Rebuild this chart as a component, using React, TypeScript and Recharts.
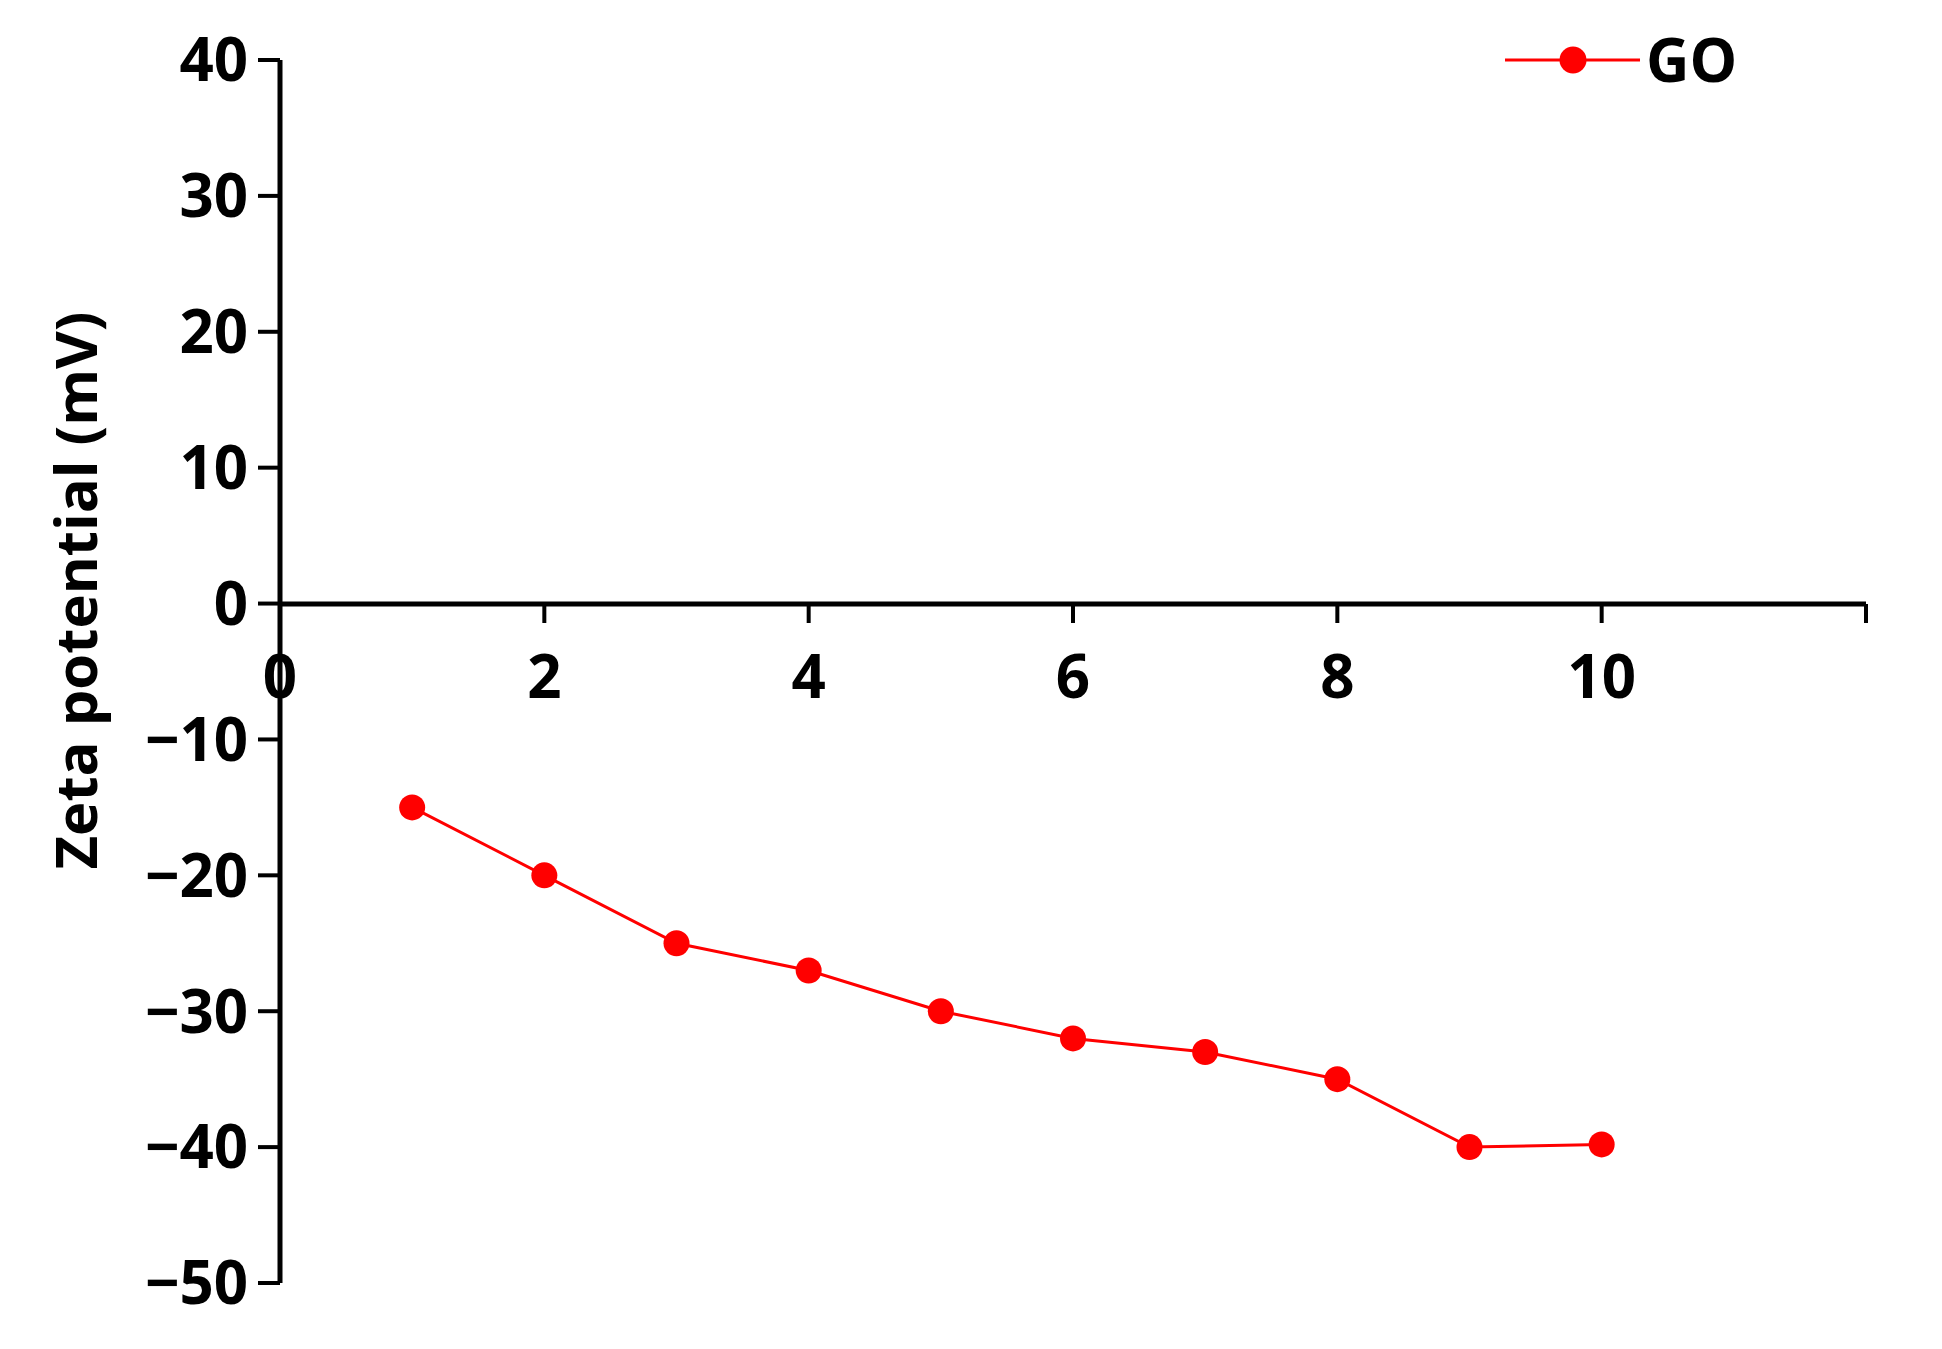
import React from 'react';
import { ComposedChart, Line, XAxis, YAxis, Legend } from 'recharts';

// pH steps and measured zeta potential of GO
const phValues = [1, 2, 3, 4, 5, 6, 7, 8, 9, 10];
const zetaGO = [-15, -20, -25, -27, -30, -32, -33, -35, -40, -39.8];
const xTicks = [0, 2, 4, 6, 8, 10, 12];
const yTicks = [-50, -40, -30, -20, -10, 0, 10, 20, 30, 40];
const seriesName = 'GO';
const yLabel = 'Zeta potential (mV)';

const data = phValues.map((ph, i) => ({ ph, zeta: zetaGO[i] }));

const W = 1942;
const H = 1349;
const FONT = '"Open Sans", "DejaVu Sans", sans-serif';
const RED = '#ff0000';

const tickStyle = { fontSize: 60, fontWeight: 700, fill: '#000', fontFamily: FONT };
const axisStroke = { stroke: '#000', strokeWidth: 5 };
const tickStroke = { stroke: '#000', strokeWidth: 4 };

const fmtY = (v: number) => (v < 0 ? '\u2212' + Math.abs(v) : String(v));
const fmtX = (v: number) => (v === 12 ? '' : String(v));

function LegendContent(props: any) {
  const item = props.payload && props.payload[0];
  if (!item) return null;
  return (
    <svg width={380} height={90} style={{ overflow: 'visible' }}>
      <line x1={15} x2={150} y1={40} y2={40} stroke={item.color} strokeWidth={3} />
      <circle cx={83} cy={40} r={13.5} fill={item.color} />
      <text x={156} y={62} fontSize={60} fontWeight={700} fontFamily={FONT} fill="#000">
        {item.value}
      </text>
    </svg>
  );
}

export default function App() {
  return (
    <div style={{ position: 'absolute', left: 0, top: 0, width: W, height: H, background: '#fff', fontFamily: FONT }}>
      <div style={{ position: 'absolute', left: 0, top: 0 }}>
        <ComposedChart width={W} height={H} data={data} margin={{ top: 60, right: 76, bottom: 66, left: 0 }}>
          <XAxis type="number" dataKey="ph" domain={[0, 12]} hide />
          <YAxis
            type="number"
            domain={[-50, 40]}
            ticks={yTicks}
            interval={0}
            width={280}
            tickFormatter={fmtY}
            tick={tickStyle}
            axisLine={axisStroke}
            tickLine={tickStroke}
            tickSize={22}
            tickMargin={10}
            label={{
              value: yLabel,
              angle: -90,
              position: 'center',
              dx: -64,
              dy: -81,
              style: { fontSize: 58, fontWeight: 700, fill: '#000', fontFamily: FONT },
            }}
          />
          <Legend
            layout="horizontal"
            verticalAlign="middle"
            align="center"
            content={<LegendContent />}
            wrapperStyle={{ left: 1490, top: 20, width: 380, height: 90 }}
          />
          <Line
            type="linear"
            dataKey="zeta"
            name={seriesName}
            stroke={RED}
            strokeWidth={3}
            dot={{ r: 13, fill: RED, stroke: 'none' }}
            activeDot={false}
            isAnimationActive={false}
          />
        </ComposedChart>
      </div>
      {/* x axis crossing at y = 0: same plot width, its bottom edge sits on the zero line */}
      <div style={{ position: 'absolute', left: 0, top: 0, pointerEvents: 'none' }}>
        <ComposedChart width={W} height={720} data={data} margin={{ top: 60, right: 76, bottom: 16, left: 280 }}>
          <XAxis
            type="number"
            dataKey="ph"
            domain={[0, 12]}
            ticks={xTicks}
            interval={0}
            height={100}
            tickFormatter={fmtX}
            tick={tickStyle}
            axisLine={axisStroke}
            tickLine={tickStroke}
            tickSize={19}
            tickMargin={32}
          />
          <YAxis type="number" domain={[0, 40]} hide />
        </ComposedChart>
      </div>
    </div>
  );
}
